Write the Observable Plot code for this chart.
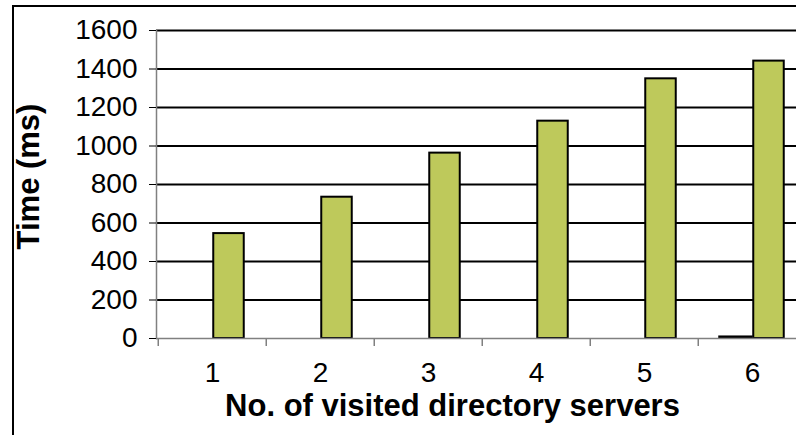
<!DOCTYPE html>
<html><head><meta charset="utf-8">
<script src="https://cdn.jsdelivr.net/npm/d3@7"></script>
<script src="https://cdn.jsdelivr.net/npm/@observablehq/plot@0.6"></script>
<style>
html,body{margin:0;padding:0;background:#fff;overflow:hidden;width:796px;height:435px}
#wrap{position:relative;width:796px;height:435px;overflow:hidden}
#border{position:absolute;left:12px;top:5px;width:900px;height:600px;border-left:2px solid #000;border-top:2px solid #000;box-sizing:border-box;pointer-events:none}
#chart{position:absolute;left:0;top:0;width:830px}
#chart svg{max-width:none !important}
</style></head><body>
<div id="wrap"><div id="chart"></div><div id="border"></div></div>
<script>
const categories = ["1","2","3","4","5","6"];
const seriesA = [null,null,null,null,null,8];
const seriesB = [545,734,963,1129,1349,1441];
const yTicks = [0,200,400,600,800,1000,1200,1400,1600];
const xTitle = "No. of visited directory servers";
const yTitle = "Time (ms)";

const rowsA = categories.map((c,i)=>({cat:c, value:seriesA[i]})).filter(d=>d.value!=null);
const rowsB = categories.map((c,i)=>({cat:c, value:seriesB[i]}));

const step = 108.5, half = step/2, barW = 31;
const plot = Plot.plot({
  width: 830, height: 435,
  marginLeft: 156, marginRight: 23, marginTop: 30, marginBottom: 97,
  style: {fontFamily: "Arial, 'Liberation Sans', sans-serif", fontSize: "28px", background: "transparent", overflow: "visible", color: "#000", maxWidth: "none"},
  x: {domain: categories, padding: 0, axis: null},
  y: {domain: [0,1600], axis: null},
  marks: [
    Plot.ruleY(yTicks.filter(d=>d>0), {stroke:"#000", strokeWidth:2}),
    Plot.barY(rowsA, {x:"cat", y:"value", fill:"#000", stroke:"#000", strokeWidth:2, insetLeft: half-33, insetRight: half}),
    Plot.barY(rowsB, {x:"cat", y:"value", fill:"#bec95b", stroke:"#000", strokeWidth:2, insetLeft: half+1, insetRight: half-barW-1}),
    Plot.ruleY([0], {stroke:"#808080", strokeWidth:1.5}),
    Plot.frame({anchor:"left", stroke:"#808080", strokeWidth:1.5}),
    Plot.ruleX(categories, {x:d=>d, y1:0, y2:0, dx:-half, insetBottom:-8, stroke:"#808080", strokeWidth:1.5}),
    Plot.axisY({ticks:yTicks, tickSize:7, tickPadding:12, fontSize:28, tickFormat:d=>String(d), label:null}),
    Plot.axisX({tickSize:0, tickPadding:24, fontSize:28, label:null}),
    Plot.text([xTitle], {frameAnchor:"bottom", dy:77, dx:-29.5, fontSize:31, fontWeight:"bold", lineAnchor:"bottom", textAnchor:"middle"}),
    Plot.text([yTitle], {frameAnchor:"left", rotate:-90, dx:-127.5, dy:-8, fontSize:31, fontWeight:"bold", textAnchor:"middle", lineAnchor:"middle"})
  ]
});
document.getElementById("chart").appendChild(plot);
</script>
</body></html>
